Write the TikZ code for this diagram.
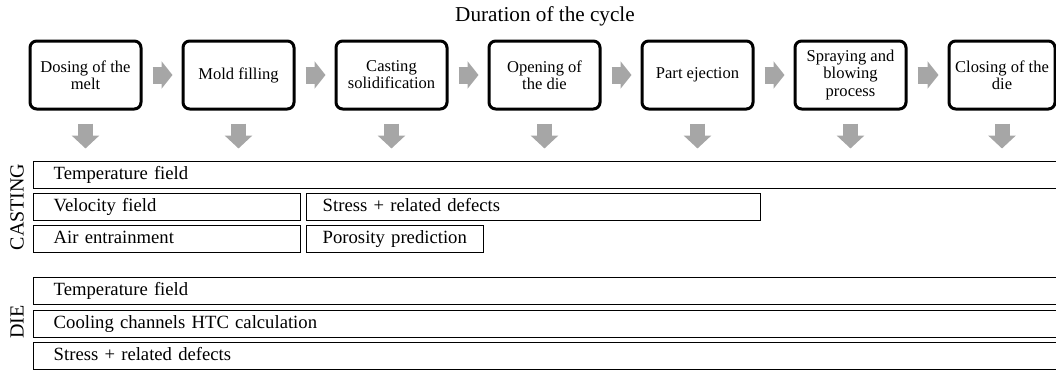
\documentclass[tikz,border=0pt]{standalone}
\usepackage{fontspec}
\setmainfont{Liberation Serif}
\usetikzlibrary{arrows.meta}
\definecolor{arrgray}{RGB}{166,166,166}
\tikzset{every picture/.style={line width=0.75pt}}
\tikzset{
  stepbox/.style={draw, line width=2.25pt, rounded corners=5pt, minimum width=83.25pt, minimum height=51pt, align=center, inner sep=1pt, font=\fontsize{12.4}{12.8}\selectfont},
  bar/.style={draw, line width=1.1pt, anchor=north west, align=left, inner xsep=15pt, inner ysep=0pt, text height=10pt, text depth=3pt, minimum height=20.25pt, font=\fontsize{14}{16}\selectfont},
  sidebar/.style={bar, inner xsep=12pt},
  sidelbl/.style={rotate=90, font=\fontsize{15}{15}\selectfont},
  flowarr/.style={draw=arrgray, line width=12.75pt, -{Triangle[length=8.25pt,width=20.25pt]}},
  downarr/.style={draw=arrgray, line width=11.25pt, -{Triangle[length=9.75pt,width=20.25pt]}},
}

\begin{document}
\begin{tikzpicture}[x=0.75pt,y=0.75pt,yscale=-1,xscale=1]
\useasboundingbox (0,0) rectangle (1056,371);
\clip (0,0) rectangle (1056,371);

% Title
\node (title) [font=\fontsize{15.9}{16}\selectfont] at (545,16) {Duration of the cycle};

% Steps of the cycle
\node (d1) [stepbox] at (85.5,75) {Dosing of the\\melt};
\node (d2) [stepbox] at (238.5,75) {Mold filling};
\node (d3) [stepbox] at (391.5,75) {Casting\\solidification};
\node (d4) [stepbox] at (544.5,75) {Opening of\\the die};
\node (d5) [stepbox] at (697.5,75) {Part ejection};
\node (d6) [stepbox] at (850.5,75) {Spraying and\\blowing\\process};
\node (d7) [stepbox, minimum width=79.5pt] at (1002,75) {Closing of the\\die};

% Arrows between steps
\draw [flowarr] ([xshift=7.5pt]d1.east) -- ([xshift=-6.75pt]d2.west);
\draw [flowarr] ([xshift=7.5pt]d2.east) -- ([xshift=-6.75pt]d3.west);
\draw [flowarr] ([xshift=7.5pt]d3.east) -- ([xshift=-6.75pt]d4.west);
\draw [flowarr] ([xshift=7.5pt]d4.east) -- ([xshift=-6.75pt]d5.west);
\draw [flowarr] ([xshift=7.5pt]d5.east) -- ([xshift=-6.75pt]d6.west);
\draw [flowarr] ([xshift=7.5pt]d6.east) -- ([xshift=-6.75pt]d7.west);

% Arrows down (yscale=-1, so positive yshift goes down)
\draw [downarr] ([yshift=9.75pt]d1.south) -- ([yshift=28.5pt]d1.south);
\draw [downarr] ([yshift=9.75pt]d2.south) -- ([yshift=28.5pt]d2.south);
\draw [downarr] ([yshift=9.75pt]d3.south) -- ([yshift=28.5pt]d3.south);
\draw [downarr] ([yshift=9.75pt]d4.south) -- ([yshift=28.5pt]d4.south);
\draw [downarr] ([yshift=9.75pt]d5.south) -- ([yshift=28.5pt]d5.south);
\draw [downarr] ([yshift=9.75pt]d6.south) -- ([yshift=28.5pt]d6.south);
\draw [downarr] ([yshift=9.75pt]d7.south) -- ([yshift=28.5pt]d7.south);

% Casting
\node (castlbl) [sidelbl] at (17,207) {CASTING};
\node (ctemp) [bar, text width=747.75pt] at (33,161) {Temperature field};
\node (cvel) [bar, text width=170.25pt] at (33,193) {Velocity field};
\node (cstress) [sidebar, text width=316.5pt] at (306,193) {Stress + related defects};
\node (cair) [bar, text width=170.25pt] at (33,225) {Air entrainment};
\node (cpor) [sidebar, text width=108.75pt] at (306,225) {Porosity prediction};

% Die
\node (dielbl) [sidelbl] at (17,322) {DIE};
\node (dtemp) [bar, text width=747.75pt] at (33,277) {Temperature field};
\node (dcool) [bar, text width=747.75pt] at (33,309.5) {Cooling channels HTC calculation};
\node (dstress) [bar, text width=747.75pt] at (33,342) {Stress + related defects};

\end{tikzpicture}
\end{document}
